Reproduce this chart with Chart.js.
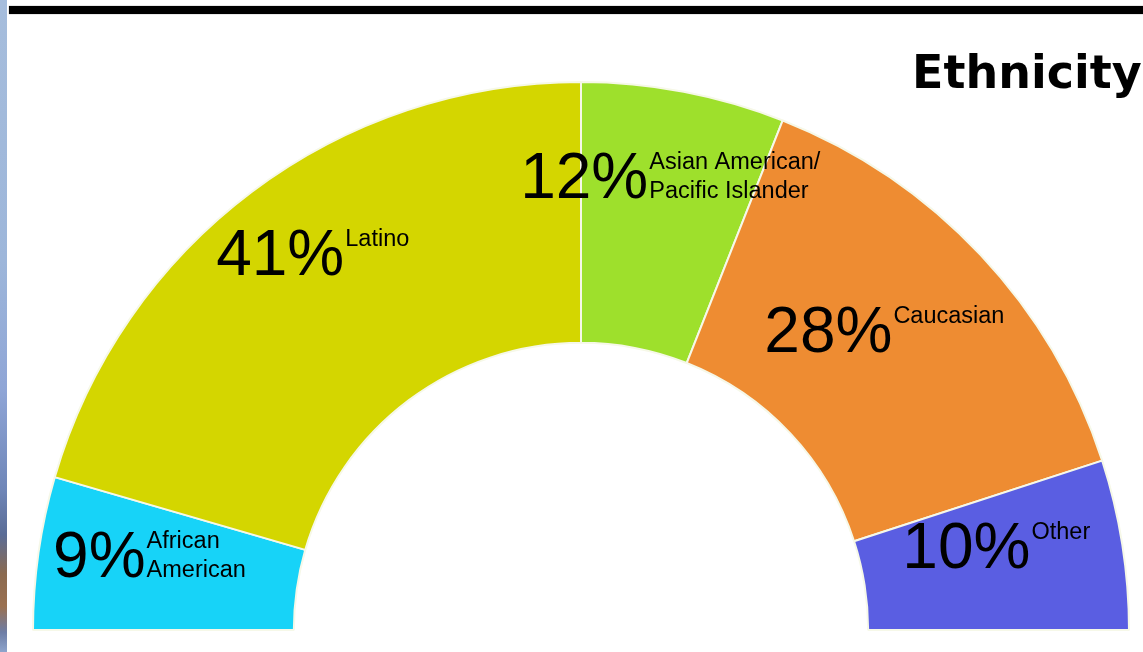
<!DOCTYPE html>
<html>
<head>
<meta charset="utf-8">
<script src="https://cdn.jsdelivr.net/npm/chart.js@4/dist/chart.umd.min.js"></script>
<style>
  html, body { margin: 0; padding: 0; background: #fff; }
  #wrap { position: relative; width: 1143px; height: 652px; overflow: hidden; background: #fff; }
  #strip {
    position: absolute; left: 0; top: 0; width: 7px; height: 652px;
    background: linear-gradient(to bottom, #a6bddc 0%, #9db6da 40%, #8fa5d6 60%, #6f86b8 75%, #5a6c96 82%, #8a6a50 88%, #9a7050 93%, #6e7ea6 97%, #8ea4cc 100%);
  }
  #bar {
    position: absolute; left: 9px; top: 6px; right: 0; height: 8px;
    background: #000; box-shadow: 0 0 1px #777;
  }
  #title {
    position: absolute; left: 912px; top: 46px; white-space: nowrap;
    font-family: "DejaVu Sans", sans-serif; font-weight: bold; font-size: 46px;
    line-height: 52px; color: #000;
  }
  canvas { position: absolute; left: 0; top: 0; }
</style>
</head>
<body>
<div id="wrap">
  <div id="strip"></div>
  <div id="bar"></div>
  <canvas id="ethnicityChart" width="1143" height="652"></canvas>
  <div id="title">Ethnicity</div>
</div>
<script>
const categories = ['African American', 'Latino', 'Asian American/Pacific Islander', 'Caucasian', 'Other'];
const percentages = [9, 41, 12, 28, 10];
const labelLines = [['African', 'American'], ['Latino'], ['Asian American/', 'Pacific Islander'], ['Caucasian'], ['Other']];
const sliceColors = ['#17d3f8', '#d4d600', '#9ee02c', '#ee8c32', '#5a5ee2'];

// where the text goes, relative to each slice's centre point
const labelOffsets = [[-20, 6], [16, -21], [-9, -22], [9, 8], [39, 3]];

const sliceLabels = {
    id: 'sliceLabels',
    afterDatasetsDraw(chart) {
        const ctx = chart.ctx;
        const arcs = chart.getDatasetMeta(0).data;
        ctx.save();
        ctx.fillStyle = '#000';
        ctx.textBaseline = 'alphabetic';
        arcs.forEach((arc, i) => {
            const c = arc.getCenterPoint();
            const x = c.x + labelOffsets[i][0];
            const y = c.y + labelOffsets[i][1];
            ctx.font = '64px "Liberation Sans", Arial, sans-serif';
            ctx.textAlign = 'right';
            ctx.fillText(percentages[i] + '%', x - 2, y);
            ctx.font = '23.5px "Liberation Sans", Arial, sans-serif';
            ctx.textAlign = 'left';
            labelLines[i].forEach((line, j) => {
                ctx.fillText(line, x - 1, y - 29 + j * 29);
            });
        });
        ctx.restore();
    }
};

new Chart(document.getElementById('ethnicityChart'), {
    type: 'doughnut',
    data: {
        labels: categories,
        datasets: [{
            data: percentages,
            backgroundColor: sliceColors,
            borderColor: '#f6f8e8',
            borderWidth: 2
        }]
    },
    options: {
        responsive: false,
        animation: false,
        devicePixelRatio: 1,
        rotation: -90,
        circumference: 180,
        radius: 548,
        cutout: '52.4%',
        layout: { padding: { left: 33, right: 14, top: 82, bottom: 22 } },
        plugins: {
            legend: { display: false },
            tooltip: { enabled: false }
        }
    },
    plugins: [sliceLabels]
});
</script>
</body>
</html>
